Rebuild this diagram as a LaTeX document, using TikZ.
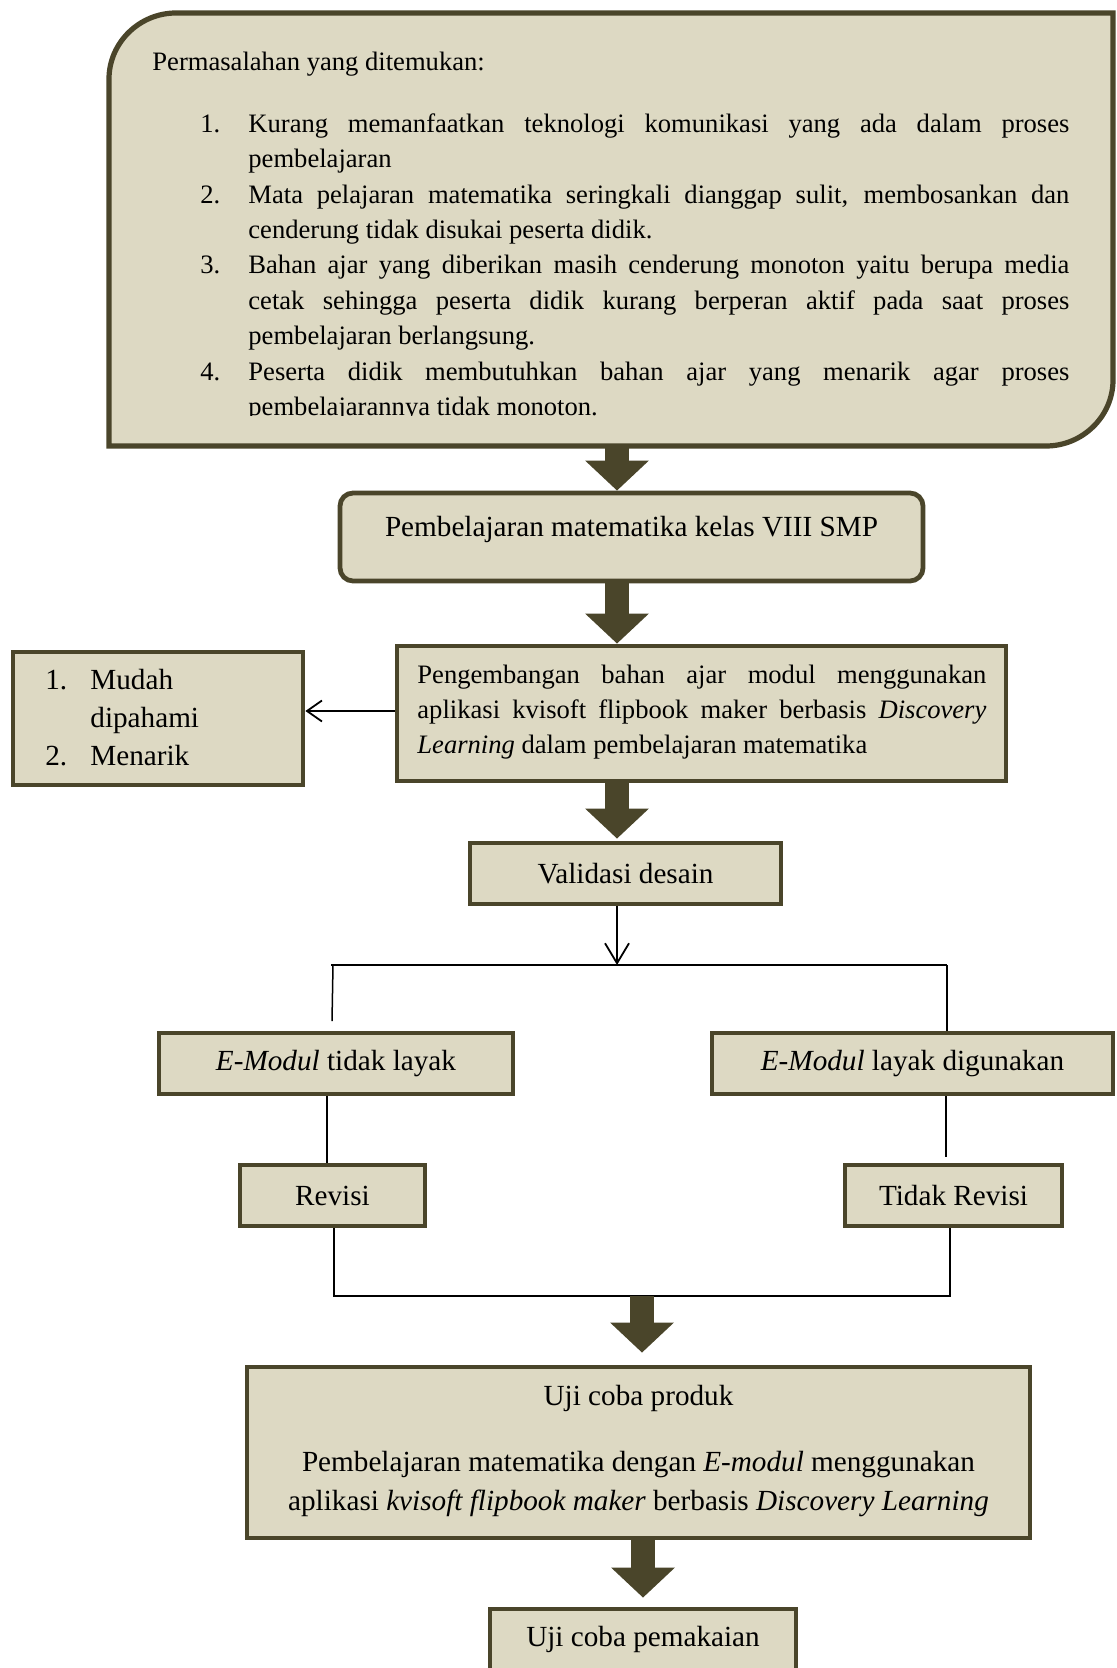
\documentclass[tikz,border=0pt]{standalone}
\usepackage{fontspec}
\setmainfont{Liberation Serif}
\usetikzlibrary{arrows.meta}
\definecolor{boxfill}{HTML}{DDD9C3}
\definecolor{boxline}{HTML}{4A452A}
\newcommand{\smallfs}{\fontsize{13.3}{17.7}\selectfont}
\newcommand{\bigfs}{\fontsize{14.6}{19}\selectfont}
\newcommand{\jl}[2]{\makebox[#1][s]{#2}}
\begin{document}
\begin{tikzpicture}[x=0.5pt,y=-0.5pt,
  box/.style={draw=boxline, fill=boxfill, line width=2.4pt, inner sep=0pt, font=\bigfs},
  txt/.style={inner sep=0pt, anchor=base west},
  fat/.style={draw=boxline, line width=12pt, -{Triangle[width=31pt,length=15pt]}},
  thinline/.style={draw=black, line width=0.75pt},
  branch/.style={draw=black, line width=1.2pt},
  thinarrow/.style={draw=black, line width=0.9pt, -{Straight Barb[length=10pt,width=12pt]}},
  sidearrow/.style={draw=black, line width=0.9pt, -{Straight Barb[length=7.5pt,width=10.5pt]}}]
\clip (0,0) rectangle (1117,1668);
% column coordinates
\coordinate (c1) at (617,0);
\coordinate (c2) at (642,0);
\coordinate (c3) at (643,0);
% top problem box
\draw[draw=boxline, fill=boxfill, line width=2.6pt]
  (109,446) -- (109,79) .. controls (109,42.5) and (139.5,13) .. (176,13)
  -- (1113,13) -- (1113,380) .. controls (1113,416.5) and (1082.5,446) .. (1046,446) -- cycle;
\coordinate (probS) at (617,446);
\node[txt, font=\smallfs] (ph) at (152,70.3) {Permasalahan yang ditemukan:};
\begin{scope}[font=\smallfs]
\clip (0,0) rectangle (1117,416);
\node[txt] (n1) at (200,132.3) {1.};
\node[txt] (l1) at (248,132.3) {\jl{410.5pt}{Kurang memanfaatkan teknologi komunikasi yang ada dalam proses}};
\node[txt] (l2) at (248,167.7) {pembelajaran};
\node[txt] (n2) at (200,203.1) {2.};
\node[txt] (l3) at (248,203.1) {\jl{410.5pt}{Mata pelajaran matematika seringkali dianggap sulit, membosankan dan}};
\node[txt] (l4) at (248,238.5) {cenderung tidak disukai peserta didik.};
\node[txt] (n3) at (200,273.9) {3.};
\node[txt] (l5) at (248,273.9) {\jl{410.5pt}{Bahan ajar yang diberikan masih cenderung monoton yaitu berupa media}};
\node[txt] (l6) at (248,309.3) {\jl{410.5pt}{cetak sehingga peserta didik kurang berperan aktif pada saat proses}};
\node[txt] (l7) at (248,344.7) {pembelajaran berlangsung.};
\node[txt] (n4) at (200,380.1) {4.};
\node[txt] (l8) at (248,380.1) {\jl{410.5pt}{Peserta didik membutuhkan bahan ajar yang menarik agar proses}};
\node[txt] (l9) at (248,415.5) {pembelajarannya tidak monoton.};
\end{scope}
% box 2
\node[box, rounded corners=6.5pt, minimum width=291.5pt, minimum height=44pt] (b2) at (631.5,537) {};
\node[inner sep=0pt, anchor=base, font=\bigfs] (t2) at (631.5,536.8) {Pembelajaran matematika kelas VIII SMP};
% box 3
\node[box, minimum width=304.5pt, minimum height=67.5pt] (b3) at (701.5,713.5) {};
\begin{scope}[font=\smallfs]
\node[txt] (m1) at (417,683) {\jl{284.5pt}{Pengembangan bahan ajar modul menggunakan}};
\node[txt] (m2) at (417,718.1) {\jl{284.5pt}{aplikasi kvisoft flipbook maker berbasis \textit{Discovery}}};
\node[txt] (m3) at (417,753.2) {\textit{Learning} dalam pembelajaran matematika};
\end{scope}
% left box
\node[box, minimum width=145pt, minimum height=66.5pt] (lb) at (158,718.5) {};
\begin{scope}[font=\bigfs]
\node[txt] (k1) at (45,689) {1.};
\node[txt] (k2) at (90,689) {Mudah};
\node[txt] (k3) at (90,727) {dipahami};
\node[txt] (k4) at (45,765) {2.};
\node[txt] (k5) at (90,765) {Menarik};
\end{scope}
% validasi
\node[box, minimum width=155.5pt, minimum height=30.5pt] (val) at (625.5,873.5) {Validasi desain};
% e-modul boxes
\node[box, minimum width=177pt, minimum height=30.5pt] (e1) at (336,1063.5) {\textit{E-Modul} tidak layak};
\node[box, minimum width=200.5pt, minimum height=30.5pt] (e2) at (912.5,1063.5) {\textit{E-Modul} layak digunakan};
\node[box, minimum width=92.5pt, minimum height=30.5pt] (rev) at (332.5,1195.5) {Revisi};
\node[box, minimum width=108.5pt, minimum height=30.5pt] (trev) at (953.5,1195.5) {Tidak Revisi};
% uji coba produk
\node[box, minimum width=391.5pt, minimum height=85.5pt] (ucp) at (638.5,1452.5) {};
\begin{scope}[font=\bigfs]
\node[inner sep=0pt, anchor=base] (u1) at (638.5,1405.9) {Uji coba produk};
\node[inner sep=0pt, anchor=base] (u2) at (638.5,1471.8) {Pembelajaran matematika dengan \textit{E-modul} menggunakan};
\node[inner sep=0pt, anchor=base] (u3) at (638.5,1510.1) {aplikasi \textit{kvisoft flipbook maker} berbasis \textit{Discovery Learning}};
\end{scope}
\node[box, minimum width=153pt, minimum height=30.5pt] (ucm) at (643,1639.5) {Uji coba pemakaian};
% fat arrows
\draw[fat] (probS) -- (b2.north -| c1);
\draw[fat] (b2.south -| c1) -- (b3.north -| c1);
\draw[fat] (b3.south -| c1) -- ([yshift=1pt]val.north -| c1);
% side arrow
\coordinate (ys) at (0,711);
\draw[sidearrow] (b3.west |- ys) -- (lb.east |- ys);
% branch
\coordinate (bj) at (617,965);
\coordinate (bl) at (331,965);
\coordinate (brr) at (947,965);
\draw[thinarrow] (val.south -| c1) -- (bj);
\draw[branch] (bl) -- (brr);
\coordinate (bld) at (332,1021);
\draw[thinline] (333,965) -- (bld);
\draw[thinline] (brr) -- (e2.north -| brr);
\coordinate (x1) at (327,0);
\coordinate (x2) at (946,0);
\coordinate (x2e) at (946,1157);
\draw[thinline] (e1.south -| x1) -- (rev.north -| x1);
\draw[thinline] (e2.south -| x2) -- (x2e);
\coordinate (jl) at (334,1296);
\coordinate (jr) at (950,1296);
\draw[thinline] (rev.south -| jl) -- (jl);
\draw[thinline] (trev.south -| jr) -- (jr);
\draw[branch] (333,1296) -- (951,1296);
\coordinate (jm) at (642,1296);
\draw[fat, shorten >=6pt] (jm) -- (ucp.north -| c2);
\draw[fat, shorten >=4.5pt] (ucp.south -| c3) -- (ucm.north -| c3);
\end{tikzpicture}
\end{document}
